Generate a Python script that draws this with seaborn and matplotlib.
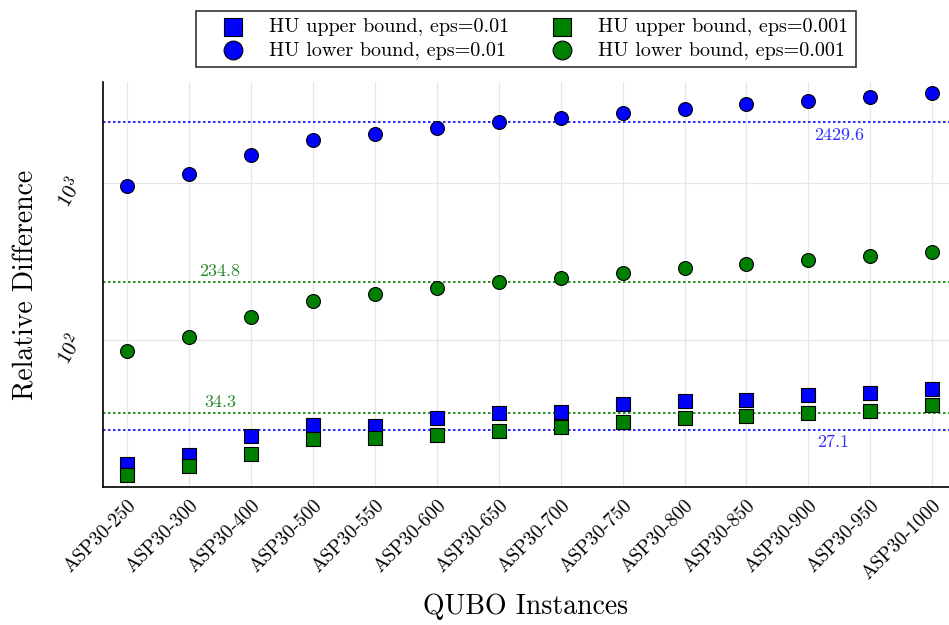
import matplotlib
matplotlib.use("Agg")
import matplotlib.pyplot as plt
import pandas as pd
import seaborn as sns

instances = ["ASP30-250", "ASP30-300", "ASP30-400", "ASP30-500", "ASP30-550",
             "ASP30-600", "ASP30-650", "ASP30-700", "ASP30-750", "ASP30-800",
             "ASP30-850", "ASP30-900", "ASP30-950", "ASP30-1000"]

upper_001 = [16.5, 18.6, 24.5, 29.1, 28.4, 32.3, 34.6, 35.1, 39.4, 41.4, 42.0, 45.0, 46.5, 49.1]
lower_001 = [951, 1134, 1497, 1866, 2056, 2235, 2427, 2588, 2786, 2965, 3158, 3333, 3518, 3710]
upper_0001 = [13.9, 16.0, 19.0, 23.6, 24.0, 25.2, 26.7, 28.0, 30.1, 31.9, 32.9, 34.4, 35.6, 39.0]
lower_0001 = [86, 104.5, 141.5, 178, 197, 215, 233.6, 250, 269, 288.5, 307, 326, 344, 362]

# reference lines (value, colour)
hlines = [(2429.6, "blue"), (234.8, "green"), (34.3, "green"), (27.1, "blue")]

sns.set_theme(style="white")
plt.rcParams["font.family"] = ["cmr10", "DejaVu Serif"]
plt.rcParams["mathtext.fontset"] = "cm"
plt.rcParams["axes.unicode_minus"] = False
plt.rcParams["text.color"] = "black"
plt.rcParams["axes.labelcolor"] = "black"
plt.rcParams["xtick.color"] = "black"
plt.rcParams["ytick.color"] = "black"

df = pd.DataFrame({"x": range(len(instances))})

fig = plt.figure(figsize=(9.49, 6.25), dpi=100)
ax = fig.add_axes([103 / 949, 1 - 487 / 625, 1 - 103 / 949, (487 - 82) / 625])

blue = "#0000ff"
green = "#008000"

series = [
    ("HU upper bound, eps=0.01", upper_001, blue, "s"),
    ("HU lower bound, eps=0.01", lower_001, blue, "o"),
    ("HU upper bound, eps=0.001", upper_0001, green, "s"),
    ("HU lower bound, eps=0.001", lower_0001, green, "o"),
]

for label, vals, col, mk in series:
    sns.scatterplot(x=df["x"], y=vals, ax=ax, color=col, marker=mk, s=100,
                    edgecolor="black", linewidth=0.8, label=label, zorder=3)

for val, col in hlines:
    ax.axhline(val, color=col, linestyle=(0, (1.5, 1.5)), linewidth=1.2, zorder=2)

ann_kw = dict(fontsize=13, ha="center")
ax.text(11.5, 2429.6 * 0.93, "2429.6", color="#3030ff", va="top", **ann_kw)
ax.text(1.5, 234.8 * 1.05, "234.8", color="#2a8a2a", va="bottom", **ann_kw)
ax.text(1.5, 34.3 * 1.05, "34.3", color="#2a8a2a", va="bottom", **ann_kw)
ax.text(11.4, 27.1 * 0.93, "27.1", color="#3030ff", va="top", **ann_kw)

ax.set_yscale("log")
ax.set_ylim(11.7, 4385)
ax.set_xlim(-0.39, 13.27)
ax.set_yticks([100, 1000])
ax.set_yticklabels([r"$10^2$", r"$10^3$"], rotation=60, fontsize=15)
ax.yaxis.set_minor_locator(matplotlib.ticker.NullLocator())
ax.set_xticks(range(len(instances)))
ax.set_xticklabels(instances, rotation=45, ha="right", rotation_mode="anchor", fontsize=14)
ax.tick_params(axis="both", direction="in", length=6, width=1, color="black")
ax.tick_params(axis="y", pad=11)
ax.tick_params(axis="x", pad=7)

ax.grid(True, color="#e6e6e6", linewidth=0.9)
ax.set_axisbelow(True)
for side in ["top", "right"]:
    ax.spines[side].set_visible(False)
for side in ["left", "bottom"]:
    ax.spines[side].set_color("black")
    ax.spines[side].set_linewidth(1.2)

ax.set_xlabel("QUBO Instances", fontsize=20, labelpad=8)
ax.set_ylabel("Relative Difference", fontsize=20, labelpad=9)

handles, labels = ax.get_legend_handles_labels()
ax.get_legend().remove()
fig.legend(handles, labels, ncol=2, loc="upper center", bbox_to_anchor=(0.554, 0.998),
           fontsize=14.5, frameon=True, fancybox=False, edgecolor="black",
           borderpad=0.35, labelspacing=0.25, columnspacing=1.1, handlelength=3.0,
           handletextpad=0.3, markerscale=1.35).get_frame().set_linewidth(1.2)

fig.savefig("out.png", dpi=100)
